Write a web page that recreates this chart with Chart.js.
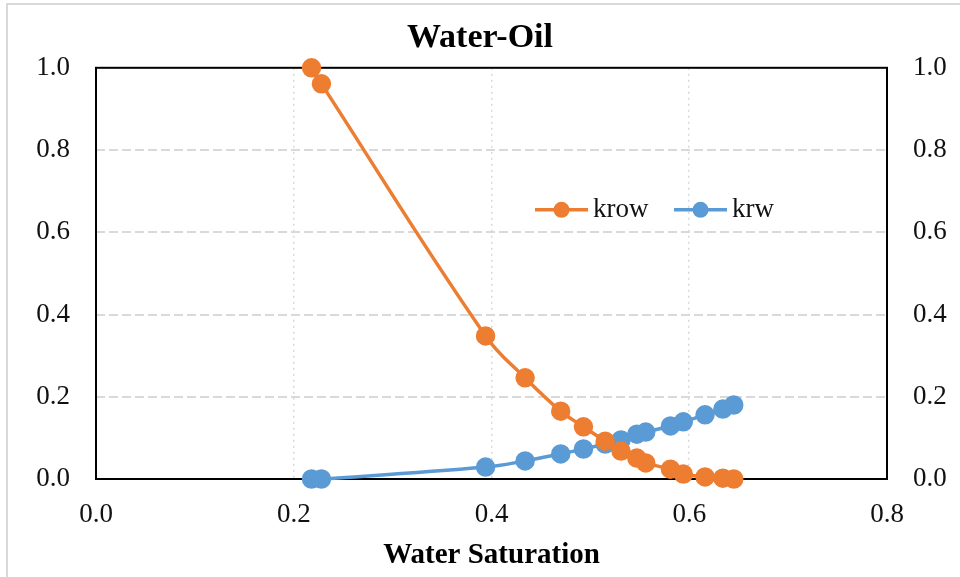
<!DOCTYPE html>
<html>
<head>
<meta charset="utf-8">
<script src="https://cdn.jsdelivr.net/npm/chart.js@4.4.1/dist/chart.umd.min.js"></script>
<style>
  html, body { margin: 0; padding: 0; background: #fff; }
  #wrap { width: 960px; height: 577px; position: relative; }
</style>
</head>
<body>
<div id="wrap"><canvas id="relperm"></canvas></div>
<script>
// Water saturation and relative permeability values
const waterSat = [0.218, 0.228, 0.394, 0.434, 0.470, 0.493, 0.515, 0.531, 0.547, 0.556, 0.581, 0.594, 0.616, 0.634, 0.645];
const krow = [1.0, 0.961, 0.348, 0.246, 0.165, 0.127, 0.092, 0.068, 0.051, 0.039, 0.024, 0.012, 0.005, 0.002, 0.0];
const krw = [0.0, 0.0, 0.029, 0.044, 0.061, 0.073, 0.085, 0.095, 0.109, 0.114, 0.129, 0.139, 0.156, 0.170, 0.180];
const seriesNames = ["krow", "krw"];
const seriesColors = ["#ED7D31", "#5B9BD5"];

const serif = "'Liberation Serif', 'Times New Roman', serif";

function toPoints(ys) {
    return waterSat.map((x, i) => ({ x: x, y: ys[i] }));
}

// hide grid lines that sit on the plot frame
function innerGrid(ctx) {
    const v = ctx.tick ? ctx.tick.value : null;
    if (v === null) return "transparent";
    if (Math.abs(v) < 1e-9 || Math.abs(v - 1) < 1e-9 || Math.abs(v - 0.8) < 1e-9 && ctx.scale.axis === "x") return "transparent";
    return "#d9d9d9";
}

// outer frame, plot border and inline legend
const framePlugin = {
    id: "framePlugin",
    beforeDraw(chart) {
        const ctx = chart.ctx;
        ctx.save();
        ctx.strokeStyle = "#d9d9d9";
        ctx.lineWidth = 2;
        ctx.beginPath();
        ctx.moveTo(7, 577);
        ctx.lineTo(7, 4);
        ctx.lineTo(960, 4);
        ctx.stroke();
        ctx.restore();
    },
    beforeDatasetsDraw(chart) {
        const { ctx, chartArea } = chart;
        ctx.save();
        ctx.strokeStyle = "#000";
        ctx.lineWidth = 2;
        ctx.strokeRect(chartArea.left, chartArea.top, chartArea.right - chartArea.left, chartArea.bottom - chartArea.top);
        ctx.restore();
    },
    afterDatasetsDraw(chart) {
        const { ctx, chartArea } = chart;
        const y = chartArea.top + 142;
        const items = [
            { x: chartArea.left + 439, text: seriesNames[0], color: seriesColors[0] },
            { x: chartArea.left + 578, text: seriesNames[1], color: seriesColors[1] }
        ];
        ctx.save();
        items.forEach((it) => {
            ctx.strokeStyle = it.color;
            ctx.lineWidth = 3.5;
            ctx.beginPath();
            ctx.moveTo(it.x, y);
            ctx.lineTo(it.x + 53, y);
            ctx.stroke();
            ctx.fillStyle = it.color;
            ctx.beginPath();
            ctx.arc(it.x + 26.5, y, 8, 0, Math.PI * 2);
            ctx.fill();
            ctx.fillStyle = "#111";
            ctx.font = "27px " + serif;
            ctx.textBaseline = "middle";
            ctx.textAlign = "left";
            ctx.fillText(it.text, it.x + 58, y);
        });
        ctx.restore();
    }
};

const tickFont = { family: serif, size: 27 };

new Chart(document.getElementById("relperm"), {
    type: "line",
    data: {
        datasets: [
            {
                label: seriesNames[0],
                data: toPoints(krow),
                borderColor: seriesColors[0],
                backgroundColor: seriesColors[0],
                borderWidth: 3.5,
                pointRadius: 8,
                pointHoverRadius: 8,
                tension: 0.4,
                clip: false
            },
            {
                label: seriesNames[1],
                data: toPoints(krw),
                borderColor: seriesColors[1],
                backgroundColor: seriesColors[1],
                borderWidth: 3.5,
                pointRadius: 8,
                pointHoverRadius: 8,
                tension: 0.4,
                clip: false
            }
        ]
    },
    options: {
        responsive: true,
        maintainAspectRatio: false,
        animation: false,
        layout: { padding: 0 },
        plugins: {
            legend: { display: false },
            tooltip: { enabled: false },
            title: {
                display: true,
                text: "Water-Oil",
                color: "#000",
                font: { family: serif, size: 34, weight: "bold", lineHeight: 1.2 },
                padding: { top: 18, bottom: 9 }
            }
        },
        scales: {
            x: {
                type: "linear",
                position: "bottom",
                min: 0,
                max: 0.8,
                ticks: {
                    stepSize: 0.2,
                    color: "#111",
                    font: tickFont,
                    padding: 20,
                    maxRotation: 0,
                    callback: (v) => v.toFixed(1)
                },
                grid: { color: innerGrid, lineWidth: 1.5, drawTicks: false },
                border: { display: false, dash: [2, 4] },
                title: {
                    display: true,
                    text: "Water Saturation",
                    color: "#000",
                    font: { family: serif, size: 29, weight: "bold", lineHeight: 1.2 },
                    padding: { top: 0, bottom: 4 }
                },
                afterFit: (s) => { s.height = 98; }
            },
            y: {
                position: "left",
                min: 0,
                max: 1,
                ticks: {
                    stepSize: 0.2,
                    color: "#111",
                    font: tickFont,
                    padding: 26,
                    callback: (v) => v.toFixed(1)
                },
                grid: { color: innerGrid, lineWidth: 2, drawTicks: false },
                border: { display: false, dash: [9, 4] },
                afterFit: (s) => { s.width = 96; }
            },
            y2: {
                position: "right",
                min: 0,
                max: 1,
                ticks: {
                    stepSize: 0.2,
                    color: "#111",
                    font: tickFont,
                    padding: 26,
                    callback: (v) => v.toFixed(1)
                },
                grid: { display: false, drawTicks: false },
                border: { display: false },
                afterFit: (s) => { s.width = 73; }
            }
        }
    },
    plugins: [framePlugin]
});
</script>
</body>
</html>
